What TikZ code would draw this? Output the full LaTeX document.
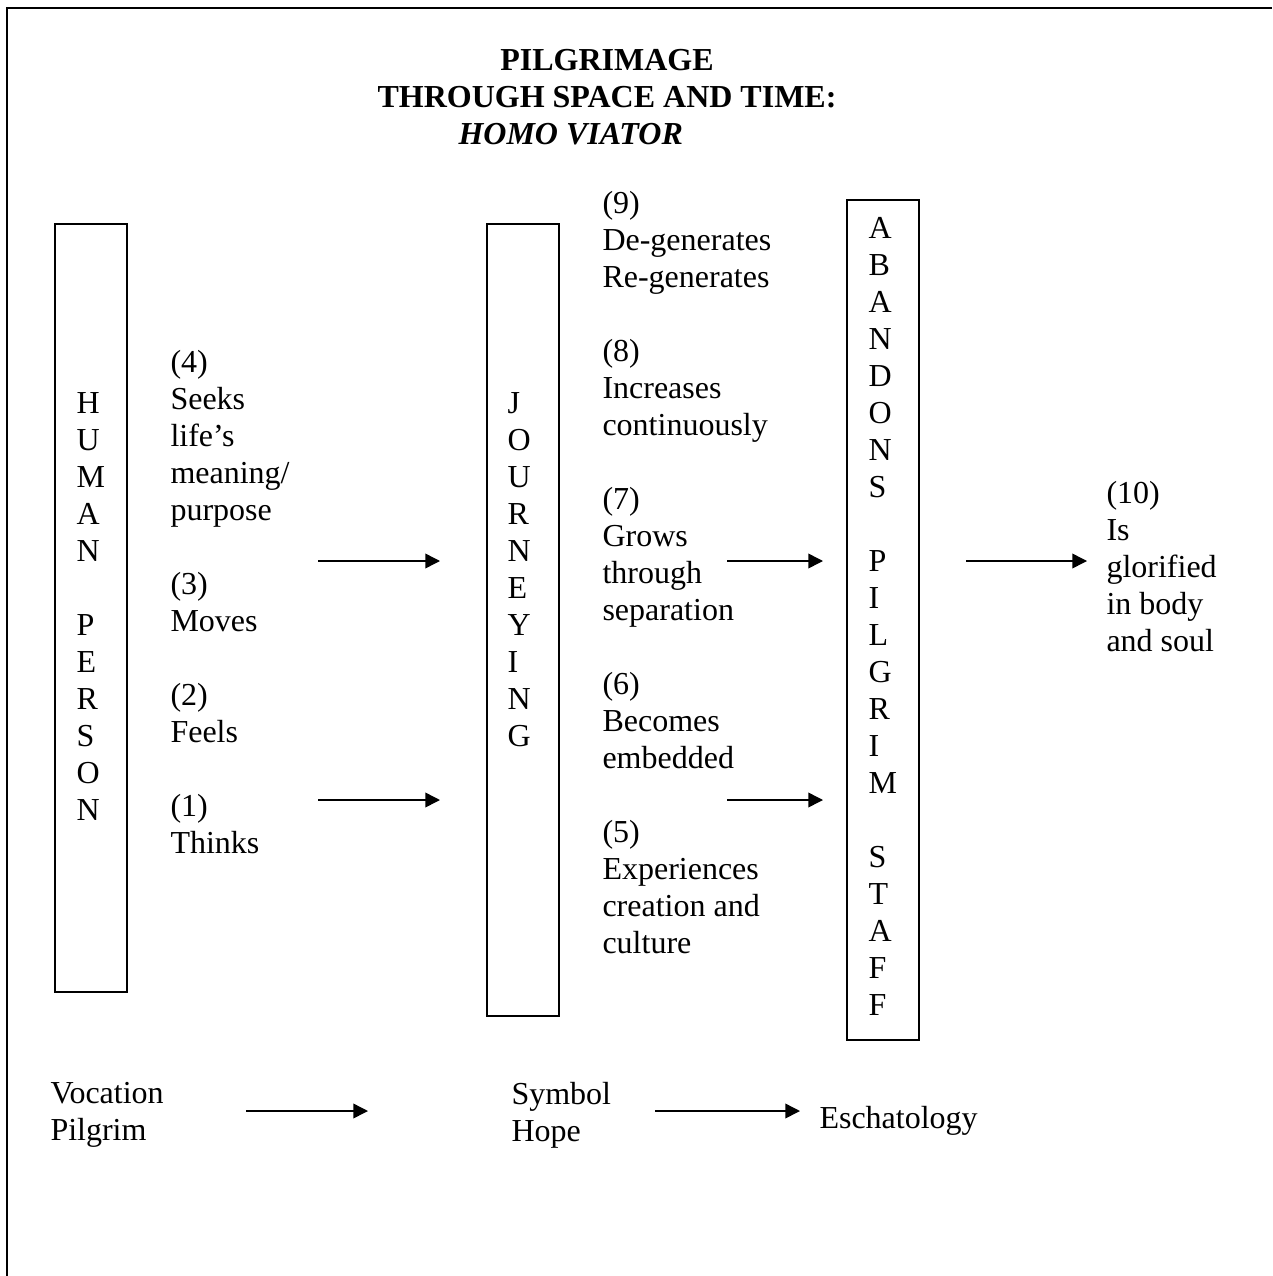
\documentclass[tikz,border=0pt]{standalone}
\usepackage{fontspec}
\setmainfont{Liberation Serif}
\usetikzlibrary{arrows.meta}

\tikzset{every picture/.style={line width=0.75pt}}
\tikzset{
  txt/.style={anchor=base west, inner sep=0pt, align=left, font=\fontsize{24}{27.75}\selectfont},
  column/.style={draw, line width=1.8pt, inner sep=0pt},
  arr/.style={-{Triangle[length=11pt,width=11pt]}, line width=1.1pt},
}

\begin{document}
\begin{tikzpicture}[x=0.75pt,y=0.75pt,yscale=-1,xscale=1]
	\useasboundingbox (0,0) rectangle (1272,1276);
	
	%Shape: Frame (top and left only)
	\draw [line width=1.8pt] (7,1276) -- (7,8) -- (1272,8) ;
	%Shape: Rectangle [human]
	\draw (91,608) node (humanbox) [column, minimum width=54pt, minimum height=576pt] {};
	%Shape: Rectangle [journey]
	\draw (523,620) node (journeybox) [column, minimum width=54pt, minimum height=594pt] {};
	%Shape: Rectangle [staff]
	\draw (883,620) node (staffbox) [column, minimum width=54pt, minimum height=630pt] {};
	
	% Text Node (base = last line)
	\draw (607,108) node (title) [anchor=base, inner sep=0pt, align=center, font=\fontsize{24}{27.75}\selectfont\bfseries] {PILGRIMAGE\\THROUGH SPACE AND TIME:};
	% Text Node
	\draw (458,145) node (viator) [txt, font=\fontsize{24}{27.75}\selectfont\bfseries\itshape] {HOMO VIATOR};
	% Text Node
	\draw (76,820) node (human) [txt] {H\\U\\M\\A\\N\\[\baselineskip]P\\E\\R\\S\\O\\N};
	% Text Node
	\draw (507,746) node (journey) [txt] {J\\O\\U\\R\\N\\E\\Y\\I\\N\\G};
	% Text Node
	\draw (868,1015) node (staff) [txt] {A\\B\\A\\N\\D\\O\\N\\S\\[\baselineskip]P\\I\\L\\G\\R\\I\\M\\[\baselineskip]S\\T\\A\\F\\F};
	% Text Node
	\draw (170,853) node (acts) [txt] {(4)\\Seeks\\life’s\\meaning/\\purpose\\[\baselineskip](3)\\Moves\\[\baselineskip](2)\\Feels\\[\baselineskip](1)\\Thinks};
	% Text Node
	\draw (602,953) node (growth) [txt] {(9)\\De-generates\\Re-generates\\[\baselineskip](8)\\Increases\\continuously\\[\baselineskip](7)\\Grows\\through\\separation\\[\baselineskip](6)\\Becomes\\embedded\\[\baselineskip](5)\\Experiences\\creation and\\culture};
	% Text Node
	\draw (1106,651) node (glory) [txt] {(10)\\Is\\glorified\\in body\\and soul};
	% Text Node
	\draw (50,1140) node (vocation) [txt] {Vocation\\Pilgrim};
	% Text Node
	\draw (511,1141) node (symbol) [txt] {Symbol\\Hope};
	% Text Node
	\draw (819,1128) node (eschaton) [txt] {Eschatology};
	
	% Arrow ends
	\coordinate (actsup) at (318,561);   \coordinate (journeyup) at (440,561);
	\coordinate (actsdn) at (318,800);   \coordinate (journeydn) at (440,800);
	\coordinate (growthup) at (727,561); \coordinate (staffup) at (823,561);
	\coordinate (growthdn) at (727,800); \coordinate (staffdn) at (823,800);
	\coordinate (staffout) at (966,561); \coordinate (gloryin) at (1087,561);
	\coordinate (vocout) at (246,1111);  \coordinate (symin) at (368,1111);
	\coordinate (symout) at (655,1111);  \coordinate (eschin) at (800,1111);
	
	% Connection
	\draw [arr] (actsup) -- (journeyup) ;
	% Connection
	\draw [arr] (actsdn) -- (journeydn) ;
	% Connection
	\draw [arr] (growthup) -- (staffup) ;
	% Connection
	\draw [arr] (growthdn) -- (staffdn) ;
	% Connection
	\draw [arr] (staffout) -- (gloryin) ;
	% Connection
	\draw [arr] (vocout) -- (symin) ;
	% Connection
	\draw [arr] (symout) -- (eschin) ;
	
\end{tikzpicture}
\end{document}
